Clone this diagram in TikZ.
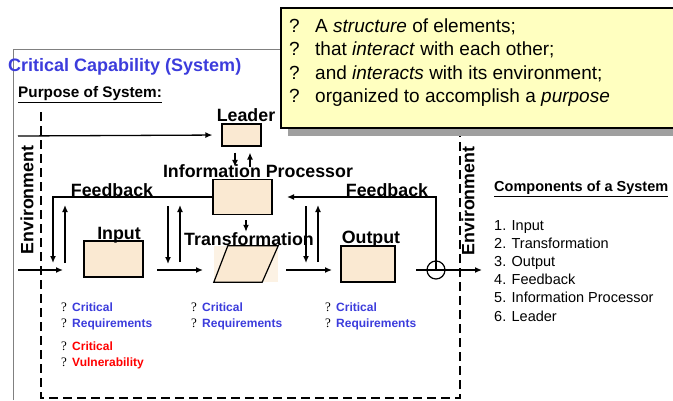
\documentclass[tikz,border=0pt]{standalone}
\usepackage{fontspec}
\setmainfont{Liberation Sans}
\newfontfamily\serifqm{Liberation Serif}
\usepackage{tikz}
\usetikzlibrary{arrows.meta}

\definecolor{boxfill}{RGB}{250,233,210}
\definecolor{notefill}{RGB}{255,255,192}
\definecolor{critblue}{RGB}{60,60,220}
\newcommand{\qmark}{\makebox[11pt][l]{\color{black}\mdseries\serifqm\fontsize{13}{16}\selectfont ?}}
\newcommand{\notemark}{\makebox[26pt][l]{?}}

\begin{document}
\begin{tikzpicture}[x=1pt,y=-1pt,
            comp node/.style={draw=black,fill=boxfill,line width=1.2pt,inner sep=0pt},
            label node/.style={font=\bfseries\fontsize{17.8}{20}\selectfont,inner sep=0pt},
            crit node/.style={font=\bfseries\fontsize{12}{16}\selectfont,align=left,anchor=west,inner sep=0pt},
            arr/.style={-{Latex[length=7pt,width=6pt]},line width=1.3pt},
            ]
            \useasboundingbox (0,0) rectangle (673,400);

            % frame and note
            \draw[gray,line width=0.8pt] (13,400) -- (13,49) -- (281,49);
            \fill[gray!75] (288,128) rectangle (673,136);
            \fill[notefill] (281,8) rectangle (673,128);
            \draw[line width=1.3pt] (673,8) -- (281,8) -- (281,128) -- (673,128);
            \node[anchor=base west,inner sep=0pt,font=\fontsize{19}{22}\selectfont] (note1) at (289,32) {\notemark A \textit{structure} of elements;};
            \node[anchor=base west,inner sep=0pt,font=\fontsize{19}{22}\selectfont] (note2) at (289,55.5) {\notemark that \textit{interact} with each other;};
            \node[anchor=base west,inner sep=0pt,font=\fontsize{19}{22}\selectfont] (note3) at (289,79) {\notemark and \textit{interacts} with its environment;};
            \node[anchor=base west,inner sep=0pt,font=\fontsize{19}{22}\selectfont] (note4) at (289,102.5) {\notemark organized to accomplish a \textit{purpose}};

            \node[anchor=west,inner sep=0pt,text=critblue,font=\bfseries\fontsize{18}{20}\selectfont] (title) at (8,67) {Critical Capability (System)};
            \node[anchor=west,inner sep=0pt,font=\bfseries\fontsize{15.3}{18}\selectfont] (purpose) at (18,95) {\underline{Purpose of System:}};

            % environment boundary
            \draw[line width=1.8pt,dash pattern=on 9pt off 5pt] (41,112) -- (41,398) -- (460,398) -- (460,136);
            \node[label node,rotate=90] (envleft) at (27,200) {Environment};
            \node[label node,rotate=90] (envright) at (468,201) {Environment};

            % components
            \node[comp node,minimum width=39pt,minimum height=22pt] (leader) at (241.5,135) {};
            \node[comp node,minimum width=59pt,minimum height=35pt] (infoproc) at (242.5,197) {};
            \node[comp node,minimum width=59pt,minimum height=36pt] (input) at (113.5,259) {};
            \node[inner sep=0pt,minimum width=64pt,minimum height=36pt,fill=boxfill!60] (transform) at (246,264) {};
            \draw[comp node] ([xshift=14pt]transform.north west) -- (transform.north east)
                -- ([xshift=-16pt]transform.south east) -- (transform.south west) -- cycle;
            \node[comp node,minimum width=54pt,minimum height=36pt] (output) at (368,264) {};
            \node[draw,circle,line width=1.2pt,minimum size=18pt,inner sep=0pt] (junc) at (436,270) {};

            \node[label node] (leaderlabel) at (246,115) {Leader};
            \node[label node] (infolabel) at (258,171) {Information Processor};
            \node[label node] (fbleftlabel) at (112,190) {Feedback};
            \node[label node] (inputlabel) at (119,235) {Input};
            \node[label node] (translabel) at (249,239) {Transformation};
            \node[label node] (outputlabel) at (371,239) {Output};
            \node[label node] (fbrightlabel) at (387,190) {Feedback};

            % connectors
            \coordinate (purp) at (18,136);
            \coordinate (envin) at (18,270);
            \coordinate (envout) at (482,270);
            \coordinate (fbleft) at (53,263);
            \coordinate (fbright) at (287,197);
            \coordinate (inarr) at (63,270);
            \coordinate (i2t) at (157,270);
            \coordinate (t2o) at (286,270);
            \coordinate (outstart) at (416,270);

            \draw[arr,shorten >=9pt] (purp) -- (leader.west);
            \draw[arr,shorten <=6pt,shorten >=12pt] ([xshift=-6.5pt]leader.south) -- ([xshift=-7.5pt]infoproc.north);
            \draw[arr,shorten <=12pt,shorten >=6pt] ([xshift=7.5pt]infoproc.north) -- ([xshift=8.5pt]leader.south);
            \draw[arr] (infoproc.west) -| (fbleft);
            \draw[arr] (junc.center) |- (fbright);
            \draw[arr,shorten <=5pt,shorten >=14pt] ([xshift=3.5pt]infoproc.south) -- (transform.north);
            \draw[arr] (envin) -- (inarr);
            \draw[arr] (i2t) -- ++(46,0);
            \draw[arr] (t2o) -- ++(46,0);
            \draw[arr] (outstart) -- (envout);
            \draw[arr] (65,263) -- (65,205);
            \draw[arr,line width=2.6pt] (168,206) -- (168,264);
            \draw[arr] (180,262) -- (180,205);
            \draw[arr] (306,206) -- (306,263);
            \draw[arr] (318,262) -- (318,205);

            % critical factors
            \node[crit node,text=critblue] (critin) at (61,316) {\qmark Critical\\\qmark Requirements};
            \node[crit node,text=critblue] (crittrans) at (191,316) {\qmark Critical\\\qmark Requirements};
            \node[crit node,text=critblue] (critout) at (325,316) {\qmark Critical\\\qmark Requirements};
            \node[crit node,text=red] (vuln) at (61,355) {\qmark Critical\\\qmark Vulnerability};

            % components list
            \node[anchor=west,inner sep=0pt,font=\bfseries\fontsize{14.5}{18}\selectfont] (complist) at (494,189) {\underline{Components of a System}};
            \node[anchor=north west,inner sep=0pt,align=left,font=\fontsize{14.5}{18.2}\selectfont] (items) at (494,220)
                {1. Input\\2. Transformation\\3. Output\\4. Feedback\\5. Information Processor\\6. Leader};
        \end{tikzpicture}
\end{document}
